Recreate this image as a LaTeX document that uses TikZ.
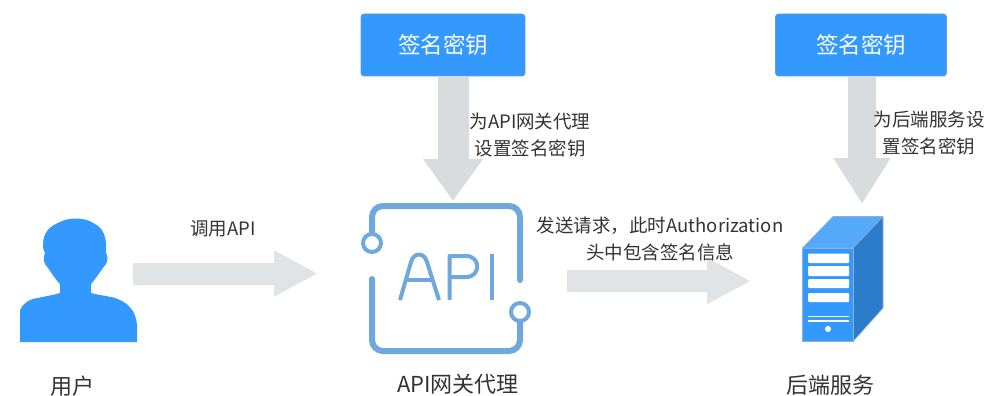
\documentclass[tikz,border=0pt]{standalone}
\usepackage{fontspec}
\setmainfont{Noto Sans CJK SC}
\usetikzlibrary{arrows.meta}
\definecolor{keyblue}{HTML}{3399FF}
\definecolor{apiblue}{HTML}{6FA8DC}
\definecolor{flowgrey}{HTML}{E1E4E6}
\definecolor{downgrey}{HTML}{D9DCDE}
\definecolor{srvlight}{HTML}{55A9FA}
\definecolor{srvdark}{HTML}{2B7CCB}
\definecolor{srvedge}{HTML}{8FB0D0}
\definecolor{txt}{HTML}{333333}
\tikzset{
  keybox/.style={draw=keyblue!75!black!70,line width=0.8pt,fill=keyblue,rounded corners=3pt,minimum height=62pt,text=white,font=\fontsize{22.5}{26}\selectfont,inner sep=0pt},
  lbl/.style={text=txt,font=\fontsize{18.5}{27}\selectfont,align=center,inner sep=0pt},
  captext/.style={text=txt,font=\fontsize{22}{26}\selectfont,inner sep=0pt},
  downarrow/.style={draw=downgrey,line width=31pt,-{Triangle[length=42pt,width=57pt]}},
  flowarrow/.style={draw=flowgrey,line width=22pt,-{Triangle[length=44pt,width=43pt]}},
  apiline/.style={draw=apiblue,line width=6pt,line cap=round,rounded corners=11pt},
  apiring/.style={draw=apiblue,line width=4pt,fill=white,circle,minimum size=18pt,inner sep=0pt},
  apiletter/.style={draw=apiblue,line width=4pt,line join=round},
  srvslot/.style={fill=white,rounded corners=1pt},
  srvface/.style={draw=srvedge,line width=0.7pt,line join=round},
}
\begin{document}
\begin{tikzpicture}[x=1pt,y=-1pt]
\useasboundingbox (0,0) rectangle (991,396);
% key boxes
\node[keybox,minimum width=164pt] (k1) at (443,45) {签名密钥};
\node[keybox,minimum width=171pt] (k2) at (861,45) {签名密钥};
\coordinate (a1s) at (133,273.5);
\coordinate (a1e) at (318,273.5);
\coordinate (a2s) at (567,281);
\coordinate (a2e) at (751,281);
\coordinate (d1s) at (453,77);
\coordinate (d1e) at (453,201);
\coordinate (d2s) at (862,77);
\coordinate (d2e) at (862,204);
% block arrows
\draw[downarrow] (d1s) -- (d1e);
\draw[downarrow,line width=28pt,-{Triangle[length=46pt,width=54pt]}] (d2s) -- (d2e);
\draw[flowarrow] (a1s) -- (a1e);
\draw[flowarrow] (a2s) -- (a2e);
% user icon
\fill[keyblue] (20,342) -- (20,310)
  .. controls (24,302) and (30,299) .. (38,298)
  .. controls (46,296) and (54,295) .. (60,293)
  -- (60,284)
  .. controls (54,278) and (50,270) .. (45,264)
  .. controls (43,260) and (44,256) .. (45,253)
  .. controls (43,249) and (43,247) .. (43,245)
  .. controls (43,232) and (50,226) .. (60,222)
  .. controls (70,217) and (85,217) .. (95,224)
  .. controls (104,229) and (107,238) .. (106,253)
  .. controls (108,256) and (108,260) .. (106,264)
  .. controls (101,270) and (97,277) .. (91,284)
  -- (91,293)
  .. controls (98,295) and (108,296) .. (115,298)
  .. controls (127,302) and (136,310) .. (137,325)
  -- (137,342) -- cycle;
% API icon
\draw[apiline] (372,234) -- (372,206) -- (520,206) -- (520,280);
\draw[apiline] (372,279) -- (372,351) -- (520,351) -- (520,322);
\node[apiring] (r1) at (372,243) {};
\node[apiring] (r2) at (520,312) {};
\draw[apiletter] (400,300) -- (411,262) .. controls (414,252) and (424,252) .. (427,262) -- (439,300);
\draw[apiletter] (405,280) -- (434,280);
\draw[apiletter] (449.5,300) -- (449.5,256) -- (466,256) .. controls (481,256) and (481,277) .. (466,277) -- (449.5,277);
\draw[apiletter] (492,254) -- (492,300);
% server icon
\filldraw[srvface,fill=srvlight] (802.5,248) -- (833,216.5) -- (883,216.5) -- (853,248) -- cycle;
\filldraw[srvface,fill=srvdark] (853,248) -- (883,216.5) -- (883,308) -- (853,341.5) -- cycle;
\filldraw[srvface,fill=keyblue] (802.5,248) rectangle (853,341.5);
\fill[srvslot] (808,253.5) rectangle (849,263);
\fill[srvslot] (808,266) rectangle (849,276);
\fill[srvslot] (808,279) rectangle (849,288);
\fill[srvslot] (808,293) rectangle (849,302);
\fill[white] (808,315.5) rectangle (849,317);
\fill[white] (808,320) rectangle (849,322);
\fill[white] (828,329) circle (3pt);
% labels
\node[lbl] (l1) at (223,229) {调用API};
\node[lbl] (l2) at (530,135) {为API网关代理\\设置签名密钥};
\node[lbl] (l3) at (660,238.5) {发送请求，此时Authorization\\头中包含签名信息};
\node[lbl] (l4) at (929,133) {为后端服务设\\置签名密钥};
\node[captext] (c1) at (72,386) {用户};
\node[captext] (c2) at (458,384) {API网关代理};
\node[captext] (c3) at (830,385) {后端服务};
\end{tikzpicture}
\end{document}
